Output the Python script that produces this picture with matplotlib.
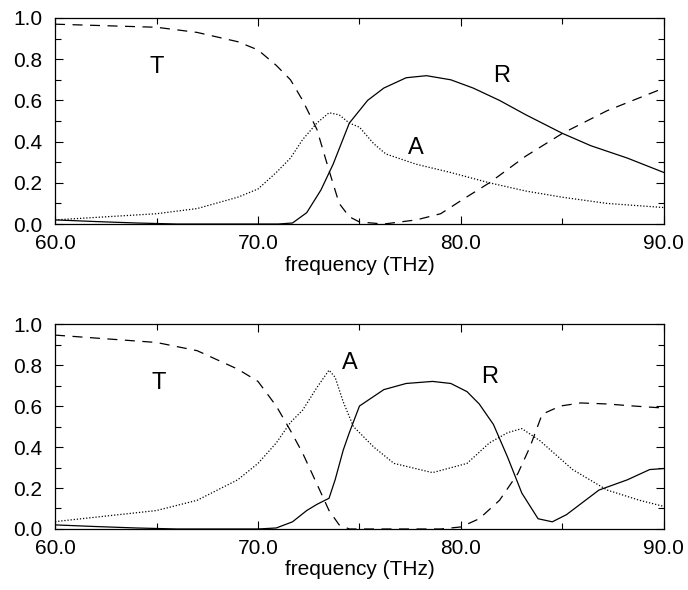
import matplotlib
matplotlib.use("Agg")
import matplotlib.pyplot as plt
from matplotlib.ticker import MultipleLocator

plt.rcParams['font.family'] = ['Liberation Sans', 'DejaVu Sans']

# ---- top panel data ----
t1_x = [60, 65, 67, 69, 70, 70.9, 71.6, 72.2, 72.9, 73.5, 74.0, 74.5, 75.0, 76.2, 77.8, 79.0, 80.1, 81.4, 83.2, 85.0, 87.2, 90.0]
t1_y = [0.97, 0.955, 0.93, 0.885, 0.845, 0.77, 0.70, 0.60, 0.46, 0.26, 0.10, 0.035, 0.01, 0.0, 0.02, 0.05, 0.12, 0.20, 0.33, 0.44, 0.55, 0.66]

r1_x = [60, 62, 64, 66, 70, 71.0, 71.7, 72.4, 73.1, 73.7, 74.5, 75.4, 76.2, 77.3, 78.3, 79.5, 80.6, 81.9, 83.2, 85.0, 86.4, 88.2, 90.0]
r1_y = [0.02, 0.012, 0.005, 0.0, 0.0, 0.0, 0.005, 0.055, 0.165, 0.29, 0.49, 0.60, 0.66, 0.71, 0.72, 0.70, 0.66, 0.60, 0.53, 0.44, 0.38, 0.32, 0.25]

a1_x = [60, 65, 67, 69, 70, 70.9, 71.6, 72.2, 72.9, 73.5, 74.0, 74.5, 75.0, 75.7, 76.3, 77.8, 79.5, 81.4, 83.2, 85.0, 87.2, 90.0]
a1_y = [0.02, 0.05, 0.075, 0.13, 0.17, 0.25, 0.32, 0.41, 0.49, 0.54, 0.53, 0.49, 0.47, 0.39, 0.34, 0.29, 0.25, 0.20, 0.16, 0.13, 0.10, 0.08]

# ---- bottom panel data ----
t2_x = [60, 65, 67, 69, 70, 70.9, 71.6, 72.2, 72.9, 73.5, 74.0, 74.5, 77.0, 79.0, 80.0, 80.9, 81.9, 82.8, 83.4, 84.0, 84.9, 85.9, 87.2, 88.5, 90.0]
t2_y = [0.946, 0.91, 0.87, 0.78, 0.72, 0.60, 0.48, 0.37, 0.22, 0.09, 0.02, 0.0, 0.0, 0.0, 0.01, 0.05, 0.14, 0.27, 0.40, 0.56, 0.60, 0.615, 0.61, 0.60, 0.59]

r2_x = [60, 62, 64, 66, 70, 70.9, 71.7, 72.4, 72.9, 73.5, 73.8, 74.2, 74.5, 75.0, 76.2, 77.3, 78.6, 79.5, 80.3, 80.9, 81.6, 82.3, 83.0, 83.8, 84.5, 85.2, 86.8, 88.2, 89.3, 90.0]
r2_y = [0.02, 0.012, 0.005, 0.0, 0.0, 0.005, 0.035, 0.09, 0.12, 0.15, 0.24, 0.385, 0.47, 0.60, 0.68, 0.71, 0.72, 0.71, 0.67, 0.61, 0.51, 0.35, 0.175, 0.05, 0.035, 0.07, 0.19, 0.24, 0.29, 0.295]

a2_x = [60, 65, 67, 69, 70, 70.9, 71.6, 72.2, 72.9, 73.5, 73.8, 74.2, 74.7, 75.7, 76.7, 78.6, 80.3, 81.4, 82.3, 83.0, 83.9, 85.5, 87.2, 88.8, 90.0]
a2_y = [0.036, 0.09, 0.14, 0.24, 0.32, 0.42, 0.52, 0.58, 0.69, 0.775, 0.74, 0.62, 0.50, 0.40, 0.32, 0.275, 0.32, 0.42, 0.47, 0.49, 0.43, 0.29, 0.19, 0.14, 0.11]

x_ticks = [60, 70, 80, 90]
x_ticklabels = ["60.0", "70.0", "80.0", "90.0"]
y_ticks = [0.0, 0.2, 0.4, 0.6, 0.8, 1.0]
y_ticklabels = ["0.0", "0.2", "0.4", "0.6", "0.8", "1.0"]

labels_top = [("T", 65.0, 0.76), ("R", 82.0, 0.72), ("A", 77.8, 0.37)]
labels_bot = [("T", 65.1, 0.71), ("A", 74.5, 0.81), ("R", 81.4, 0.74)]

fig = plt.figure(figsize=(6.88, 5.90), dpi=100)
ax1 = fig.add_axes([0.080, 0.6203, 0.885, 0.3492])
ax2 = fig.add_axes([0.080, 0.1034, 0.885, 0.3474])

lw = 0.9
for ax, (tx, ty), (rx, ry), (ax_, ay), labs in [
    (ax1, (t1_x, t1_y), (r1_x, r1_y), (a1_x, a1_y), labels_top),
    (ax2, (t2_x, t2_y), (r2_x, r2_y), (a2_x, a2_y), labels_bot),
]:
    ax.plot(tx, ty, color='black', lw=lw, linestyle=(0, (8, 6)))
    ax.plot(rx, ry, color='black', lw=lw, linestyle='-')
    ax.plot(ax_, ay, color='black', lw=lw, linestyle=(0, (1, 1.5)))
    for s, x, y in labs:
        ax.text(x, y, s, fontsize=17, ha='center', va='center')
    ax.set_xlim(60, 90)
    ax.set_ylim(0, 1)
    ax.set_xticks(x_ticks)
    ax.set_xticklabels(x_ticklabels)
    ax.set_yticks(y_ticks)
    ax.set_yticklabels(y_ticklabels)
    ax.xaxis.set_minor_locator(MultipleLocator(5))
    ax.yaxis.set_minor_locator(MultipleLocator(0.1))
    ax.tick_params(which='both', direction='in', top=True, right=True, labelsize=15, width=0.8)
    ax.tick_params(which='major', length=6)
    ax.tick_params(which='minor', length=4)
    ax.tick_params(axis='y', which='major', pad=9)
    ax.tick_params(axis='x', which='major', pad=7)
    for sp in ax.spines.values():
        sp.set_linewidth(0.9)
    ax.set_xlabel("frequency (THz)", fontsize=15, labelpad=2)

fig.savefig("out.png", dpi=100)
